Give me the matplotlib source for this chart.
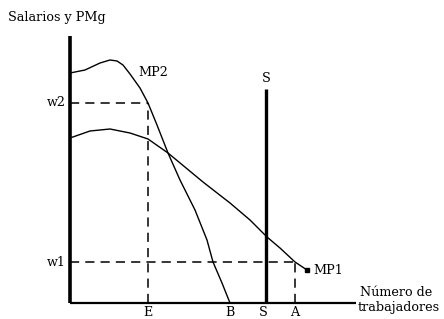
import matplotlib.pyplot as plt

# curves (x: workers, y: wage / marginal product)
mp2_x = [0, 15, 30, 40, 47, 53, 60, 70, 78, 87, 98, 110, 125, 137, 143, 152, 160]
mp2_y = [230, 233, 240, 243, 242, 238, 229, 215, 200, 178, 150, 123, 93, 63, 41, 20, 0]

mp1_x = [0, 20, 40, 60, 78, 98, 133, 160, 180, 197, 210, 225, 237]
mp1_y = [165, 172, 174, 170, 164, 150, 121, 100, 83, 66, 55, 41, 33]

w1, w2 = 41, 200
x_E, x_B, x_S, x_A = 78, 160, 196, 225
s_top = 214
y_top = 267
x_end = 286

fig = plt.figure(figsize=(4.44, 3.19), dpi=100)
ax = fig.add_axes([0, 0, 1, 1])
ax.set_xlim(-70, 374)
ax.set_ylim(-16, 303)
ax.axis('off')

# axes
ax.plot([0, 0], [0, y_top], color='black', lw=2.6, solid_capstyle='butt')
ax.plot([0, x_end], [0, 0], color='black', lw=1.6, solid_capstyle='butt')

# supply line
ax.plot([x_S, x_S], [0, s_top], color='black', lw=2.4, solid_capstyle='butt')

# marginal product curves
ax.plot(mp2_x, mp2_y, color='black', lw=1.0)
ax.plot(mp1_x, mp1_y, color='black', lw=1.0)
ax.plot(mp1_x[-1], mp1_y[-1], 's', color='black', ms=2.2)

# dashed guides
dash = dict(color='black', lw=1.1, dashes=(6, 4))
ax.plot([0, x_E], [w2, w2], **dash)
ax.plot([x_E, x_E], [0, w2], **dash)
ax.plot([0, x_A], [w1, w1], **dash)
ax.plot([x_A, x_A], [0, w1], **dash)

fnt = dict(family='DejaVu Serif', fontsize=9.2, color='black')
ax.text(-62, 285, "Salarios y PMg", ha='left', va='center', **fnt)
ax.text(-4, w2, "w2", ha='right', va='center', **fnt)
ax.text(-4, w1, "w1", ha='right', va='center', **fnt)
ax.text(68, 230, "MP2", ha='left', va='center', **fnt)
ax.text(243, 33, "MP1", ha='left', va='center', **fnt)
ax.text(x_S, s_top + 4, "S", ha='center', va='bottom', **fnt)
for lbl, xv in [("E", x_E), ("B", x_B), ("S", x_S - 3), ("A", x_A)]:
    ax.text(xv, -3, lbl, ha='center', va='top', **fnt)
ax.text(290, 11, "Número de", ha='left', va='center', **fnt)
ax.text(288, -4, "trabajadores", ha='left', va='center', **fnt)

plt.savefig("out.png", dpi=100)
